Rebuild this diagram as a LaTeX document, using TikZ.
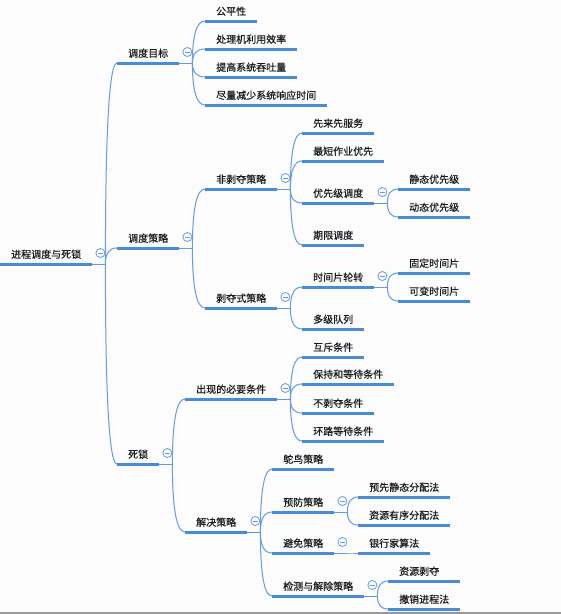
\documentclass[tikz,border=0pt]{standalone}
\usepackage{fontspec}
\newfontfamily\cjk[FakeBold=0.4]{Noto Sans CJK SC}
\usetikzlibrary{calc}
\definecolor{ul}{RGB}{74,139,214}
\definecolor{cn}{RGB}{100,155,220}
\definecolor{bg}{RGB}{252,252,252}
\begin{document}
\begin{tikzpicture}[x=1pt,y=-1pt,
 topic/.style={anchor=south west, inner xsep=11pt, inner ysep=0pt, text height=10pt, text depth=5.8pt, font=\cjk\fontsize{10}{12}\selectfont, text=black!90},
 uline/.style={draw=ul, line width=3pt},
 conn/.style={draw=cn, line width=1pt},
 branch/.style={to path={.. controls ($(\tikztostart)!2/3!(\tikztostart|-\tikztotarget)$) and ($(\tikztotarget)!2/3!(\tikztostart|-\tikztotarget)$) .. (\tikztotarget)}},
 fold/.style={circle, draw=cn, fill=white, line width=0.8pt, minimum size=9pt, inner sep=0pt,
   path picture={\draw[cn, line width=0.8pt] ([xshift=-2.5pt]path picture bounding box.center) -- ([xshift=2.5pt]path picture bounding box.center);}}
]
\fill[bg] (0,0) rectangle (561,614);
\useasboundingbox (0,0) rectangle (561,614);
\draw[black!40, line width=1.5pt] (0,612.8) -- (561,612.8);

% nodes
\node[topic] (root) at (0,264) {进程调度与死锁};
\node[topic] (a) at (117,63) {调度目标};
\node[topic] (a1) at (205,21) {公平性};
\node[topic] (a2) at (205,49) {处理机利用效率};
\node[topic] (a3) at (205,77) {提高系统吞吐量};
\node[topic] (a4) at (205,105) {尽量减少系统响应时间};
\node[topic] (b) at (117,248) {调度策略};
\node[topic] (b1) at (205,189) {非剥夺策略};
\node[topic] (b11) at (302,133) {先来先服务};
\node[topic] (b12) at (302,161) {最短作业优先};
\node[topic] (b13) at (302,203) {优先级调度};
\node[topic] (b14) at (302,245) {期限调度};
\node[topic] (b131) at (398,189) {静态优先级};
\node[topic] (b132) at (398,217) {动态优先级};
\node[topic] (b2) at (205,308) {剥夺式策略};
\node[topic] (b21) at (302,287) {时间片轮转};
\node[topic] (b22) at (302,329) {多级队列};
\node[topic] (b211) at (398,273) {固定时间片};
\node[topic] (b212) at (398,301) {可变时间片};
\node[topic] (c) at (117,464) {死锁};
\node[topic] (c1) at (185,399) {出现的必要条件};
\node[topic] (c11) at (302,357) {互斥条件};
\node[topic] (c12) at (302,384) {保持和等待条件};
\node[topic] (c13) at (302,413) {不剥夺条件};
\node[topic] (c14) at (302,441) {环路等待条件};
\node[topic] (c2) at (185,532) {解决策略};
\node[topic] (c21) at (272,469) {鸵鸟策略};
\node[topic] (c22) at (272,512) {预防策略};
\node[topic] (c23) at (272,553) {避免策略};
\node[topic] (c24) at (272,596) {检测与解除策略};
\node[topic] (c221) at (358,497) {预先静态分配法};
\node[topic] (c222) at (358,525) {资源有序分配法};
\node[topic] (c231) at (358,553) {银行家算法};
\node[topic, text width=50pt, align=left] (c241) at (388,581) {资源剥夺};
\node[topic] (c242) at (388,609) {撤销进程法};

% junctions and stems
\foreach \p in {root,a,b,b1,b13,b2,b21,c,c1,c2,c22,c23,c24} {
  \coordinate (j-\p) at ([xshift=13pt]\p.south east);
  \draw[conn] (\p.south east) -- (j-\p);
}
% connectors
\foreach \p/\c in {root/a,root/b,root/c,
  a/a1,a/a2,a/a3,a/a4,
  b/b1,b/b2,b1/b11,b1/b12,b1/b13,b1/b14,b13/b131,b13/b132,
  b2/b21,b2/b22,b21/b211,b21/b212,
  c/c1,c/c2,c1/c11,c1/c12,c1/c13,c1/c14,
  c2/c21,c2/c22,c2/c23,c2/c24,c22/c221,c22/c222,c23/c231,c24/c241,c24/c242} {
  \draw[conn] (j-\p) to[branch] (\c.south west);
}
% underlines
\foreach \n in {root,a,a1,a2,a3,a4,b,b1,b11,b12,b13,b14,b131,b132,b2,b21,b22,b211,b212,
  c,c1,c11,c12,c13,c14,c2,c21,c22,c23,c24,c221,c222,c231,c241,c242} {
  \draw[uline] (\n.south west) -- (\n.south east);
}
% fold markers
\foreach \p in {root,a,b,b1,b13,b2,b21,c,c1,c2,c22,c23,c24} {
  \node[fold] (f-\p) at ([xshift=8pt,yshift=11pt]\p.south east) {};
}
\end{tikzpicture}
\end{document}
